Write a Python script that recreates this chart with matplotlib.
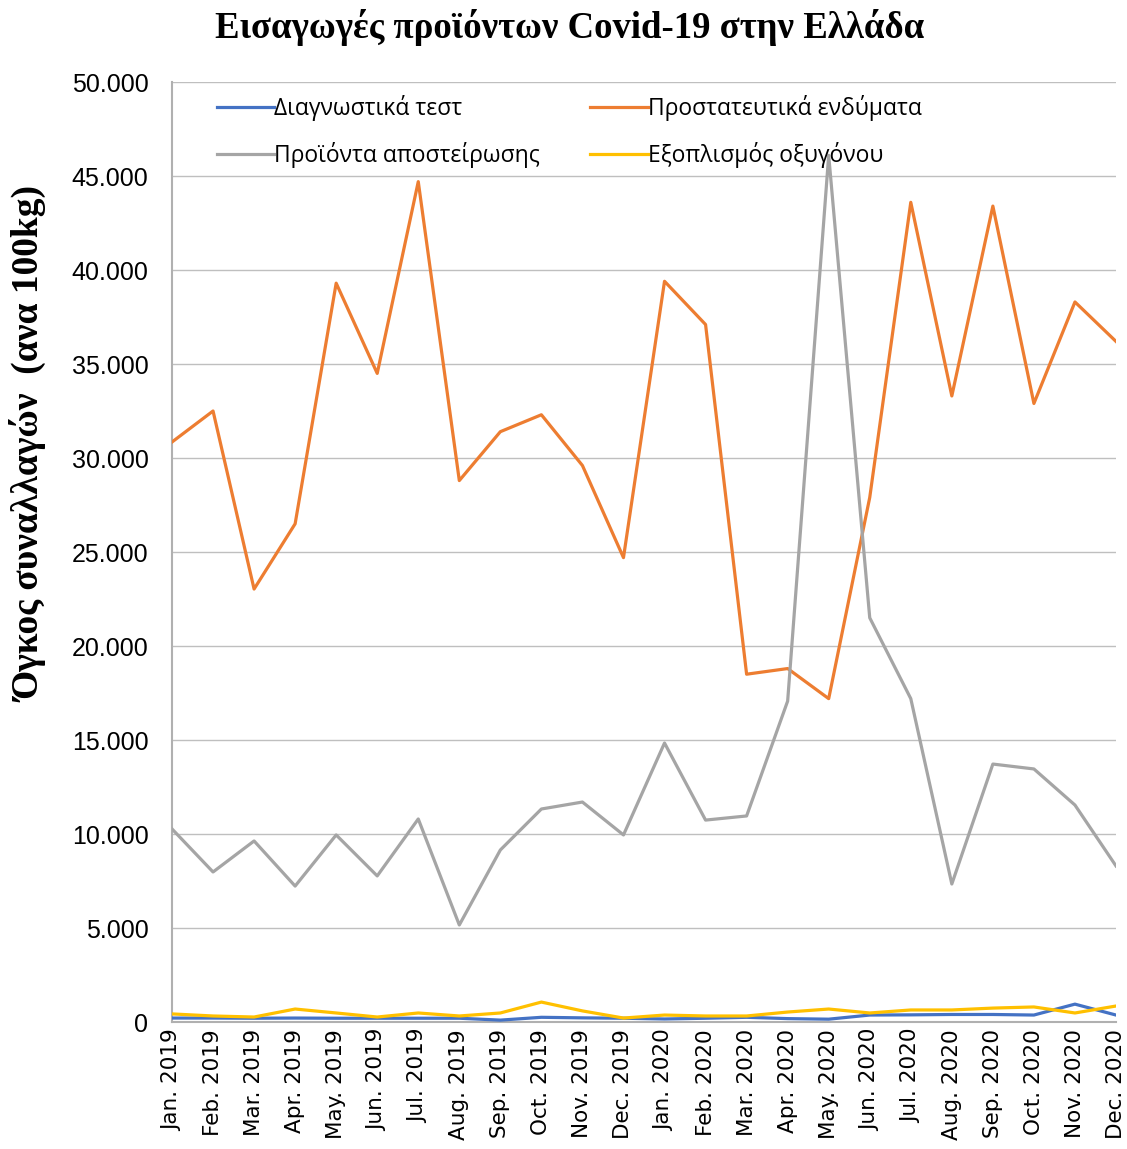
import matplotlib
matplotlib.use("Agg")
import matplotlib.pyplot as plt
from matplotlib.ticker import FuncFormatter

months = ["Jan.", "Feb.", "Mar.", "Apr.", "May.", "Jun.", "Jul.", "Aug.", "Sep.", "Oct.", "Nov.", "Dec."]
labels = [f"{m} {y}" for y in (2019, 2020) for m in months]

# όγκος συναλλαγών (ανα 100kg)
diagnostika = [210, 210, 200, 210, 200, 200, 200, 200, 100, 250, 220, 200,
               160, 200, 250, 180, 150, 370, 380, 400, 400, 370, 950, 370]
prostateftika = [30850, 32500, 23030, 26500, 39300, 34500, 44700, 28800, 31400, 32300, 29600, 24700,
                 39400, 37100, 18500, 18800, 17200, 27900, 43600, 33300, 43400, 32900, 38300, 36200]
apostirosi = [10270, 7980, 9630, 7230, 9950, 7770, 10800, 5160, 9150, 11330, 11700, 9950,
              14840, 10740, 10960, 17070, 46100, 21500, 17200, 7340, 13720, 13460, 11540, 8300]
oxygono = [430, 320, 265, 690, 480, 265, 480, 320, 480, 1060, 590, 210,
           370, 320, 320, 530, 690, 480, 640, 640, 740, 800, 480, 850]

series = [
    ("Διαγνωστικά τεστ", diagnostika, "#4472C4"),
    ("Προστατευτικά ενδύματα", prostateftika, "#ED7D31"),
    ("Προϊόντα αποστείρωσης", apostirosi, "#A5A5A5"),
    ("Εξοπλισμός οξυγόνου", oxygono, "#FFC000"),
]

fig = plt.figure(figsize=(11.27, 11.49), dpi=100)
ax = fig.add_axes([172 / 1127, 1 - 1022 / 1149, (1116 - 172) / 1127, (1022 - 82) / 1149])

x = list(range(len(labels)))
lines = []
for name, vals, color in series:
    ln, = ax.plot(x, vals, color=color, linewidth=2.3, label=name, zorder=3)
    lines.append(ln)

ax.set_xlim(0, len(labels) - 1)
ax.set_ylim(0, 50000)
ax.set_yticks(range(0, 50001, 5000))
ax.yaxis.set_major_formatter(FuncFormatter(lambda v, p: f"{int(v):,}".replace(",", ".")))
ax.set_xticks(x)
ax.set_xticklabels(labels, rotation=90, fontsize=15.5, family="DejaVu Sans")
for t in ax.get_yticklabels():
    t.set_fontsize(18)
    t.set_family("Liberation Sans")
ax.tick_params(axis="x", length=0, pad=5)
ax.tick_params(axis="y", length=0, pad=17)

ax.grid(axis="y", color="#BFBFBF", linewidth=1)
ax.set_axisbelow(True)
for side in ("top", "right"):
    ax.spines[side].set_visible(False)
ax.spines["left"].set_color("#B0B0B0")
ax.spines["bottom"].set_color("#B0B0B0")
ax.spines["left"].set_linewidth(1.5)
ax.spines["bottom"].set_linewidth(1.5)

# σειρά γραμμή-γραμμή όπως στο πρωτότυπο
order = [0, 2, 1, 3]
ax.legend([lines[i] for i in order], [series[i][0] for i in order],
          loc="upper left", bbox_to_anchor=(0.028, 1.006), ncol=2, frameon=False,
          prop={"family": "Open Sans", "size": 16.5}, handlelength=2.5, handletextpad=0.0,
          columnspacing=2.2, labelspacing=0.95, borderpad=0.3)

fig.text(0.505, 1 - 28 / 1149, "Εισαγωγές προϊόντων Covid-19 στην Ελλάδα", ha="center", va="center",
         fontsize=26.5, fontweight="bold", family="Liberation Serif")
fig.text(30 / 1127, 1 - 445 / 1149, "Όγκος συναλλαγών  (ανα 100kg)", ha="center", va="center",
         rotation=90, fontsize=27, fontweight="bold", family="Liberation Serif")

plt.savefig("out.png", dpi=100)
